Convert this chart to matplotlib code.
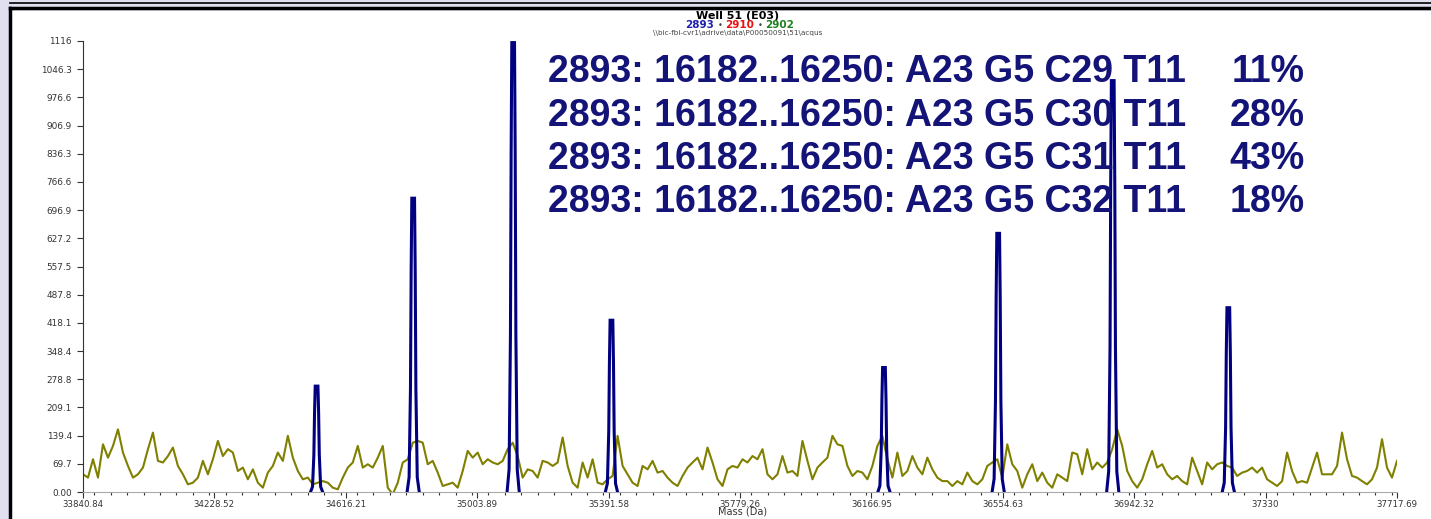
import numpy as np
import matplotlib.pyplot as plt
from matplotlib.patches import Rectangle
from matplotlib.lines import Line2D
from matplotlib.ticker import MultipleLocator

plt.rcParams['font.family'] = ['DejaVu Sans']

# mass range of the spectrum and tick labels
mass_min = 33840.84
mass_max = 37717.69
x_tick_labels = ['33840.84', '34228.52', '34616.21', '35003.89', '35391.58', '35779.26',
                 '36166.95', '36554.63', '36942.32', '37330', '37717.69']
y_max = 1116
y_tick_labels = ['0.00', '69.7', '139.4', '209.1', '278.8', '348.4', '418.1', '487.8',
                 '557.5', '627.2', '696.9', '766.6', '836.3', '906.9', '976.6', '1046.3', '1116']

# called peaks (blue trace)
peak_mass = [34530, 34815, 35110, 35400, 36204, 36541, 36879, 37220]
peak_height = [262, 727, 1112, 425, 308, 640, 1018, 456]

# noise baseline (olive trace), sampled evenly over the mass range
baseline = [
    43.8, 35.6, 81, 35.6, 118, 85, 114, 155, 97.6, 64.5, 35.6, 43.8, 60.4, 106, 147, 77, 73, 89,
    110, 64.5, 43.8, 19, 23, 35.6, 77, 43.8, 81, 126.5, 89, 106, 97.6, 52, 60.4, 31.4, 56, 23,
    10.7, 48, 64.5, 97.6, 77, 139, 85, 52, 31.4, 35.6, 19, 23, 27, 23, 10.7, 6.6, 35.6, 60.4,
    73, 114, 60.4, 68.6, 60.4, 85, 114, 10.7, -5.8, 23, 73, 81, 122, 126.5,
    122, 68.6, 77, 48, 14.9, 19, 23, 10.7, 52, 101.7, 85, 97.6, 68.6, 81, 73, 68.6, 77, 106,
    122, 89, 35.6, 56, 52, 35.6, 77, 73, 64.5, 73, 135, 64.5, 23, 10.7, 73, 35.6, 81, 23, 19,
    31.4, 39.7, 139, 64.5, 43.8, 23, 14.9, 64.5, 56, 77, 48, 52, 35.6, 23, 14.9, 39.7, 60.4,
    73, 85, 56, 110, 73, 31.4, 14.9, 56, 64.5, 60.4, 81, 73,
    89, 81, 106, 43.8, 31.4, 43.8, 89, 48, 52, 39.7, 126.5, 77, 31.4, 60.4, 73, 85, 139, 118,
    114, 64.5, 39.7, 52, 48, 31.4, 64.5, 114, 139, 81, 35.6, 97.6, 39.7, 52, 89, 60.4, 43.8,
    85, 56, 35.6, 27, 27, 14.9, 27, 19, 48, 27, 19, 31.4, 64.5, 73, 81, 35.6, 118, 68.6, 52,
    10.7, 43.8, 68.6, 27, 48, 23, 10.7, 43.8, 35.6, 27, 97.6, 93.5,
    43.8, 106, 56, 73, 60.4, 73, 106, 155, 114, 52, 27, 10.7, 31.4, 68.6, 101.7, 60.4, 68.6,
    43.8, 31.4, 39.7, 27, 19, 85, 52, 19, 73, 56, 68.6, 73, 64.5, 60.4, 39.7, 48, 52, 60.4,
    48, 60.4, 31.4, 23, 14.9, 27, 97.6, 52, 23, 27, 23, 60.4, 97.6, 43.8, 43.8, 43.8, 64.5,
    147, 81, 39.7, 35.6, 27, 19, 31.4, 60.4, 130.7, 60.4, 35.6, 77,
]

assignments = ['2893: 16182..16250: A23 G5 C29 T11',
               '2893: 16182..16250: A23 G5 C30 T11',
               '2893: 16182..16250: A23 G5 C31 T11',
               '2893: 16182..16250: A23 G5 C32 T11']
percents = ['11%', '28%', '43%', '18%']

W, H = 1431, 519
fig = plt.figure(figsize=(W / 100, H / 100), dpi=100, facecolor='#e0e0f0')

# window frame
fig.patches.append(Rectangle((10 / W, 0), 1 - 10 / W, 1 - 11 / H, transform=fig.transFigure,
                             facecolor='white', edgecolor='none', zorder=-5))
fig.lines.append(Line2D([10 / W, 1], [1 - 3 / H, 1 - 3 / H], transform=fig.transFigure,
                        color='black', lw=1.2, zorder=-4))
fig.lines.append(Line2D([10 / W, 1], [1 - 8 / H, 1 - 8 / H], transform=fig.transFigure,
                        color='black', lw=2.5, zorder=-4))
fig.lines.append(Line2D([10 / W, 10 / W], [0, 1 - 8 / H], transform=fig.transFigure,
                        color='black', lw=2.5, zorder=-4))

ax = fig.add_axes([83 / W, 27 / H, 1314 / W, 451 / H])
ax.set_facecolor('none')

mass = np.linspace(mass_min, mass_max, len(baseline))
ax.plot(mass, baseline, color='#808000', lw=1.5, zorder=2)

# peak outline (hollow, like the original trace)
dx = [-18, -12, -8, -6, -4, 4, 6, 8, 12, 18]
fy = [0, 0.05, 0.35, 0.75, 1, 1, 0.75, 0.35, 0.05, 0]
for m, h in zip(peak_mass, peak_height):
    ax.plot([m + d for d in dx], [h * f for f in fy], color='#000080', lw=2.2, zorder=3,
            solid_joinstyle='miter')

ax.set_xlim(mass_min, mass_max)
ax.set_ylim(0, y_max)
xt = np.linspace(mass_min, mass_max, len(x_tick_labels))
ax.set_xticks(xt)
ax.set_xticklabels(x_tick_labels)
ax.xaxis.set_minor_locator(MultipleLocator((xt[1] - xt[0]) / 8))
yt = np.linspace(0, y_max, len(y_tick_labels))
ax.set_yticks(yt)
ax.set_yticklabels(y_tick_labels)

for s in ['top', 'right']:
    ax.spines[s].set_visible(False)
ax.spines['left'].set_color('#333333')
ax.spines['bottom'].set_color('#aaaaaa')
ax.tick_params(axis='y', which='major', labelsize=6.4, length=4, width=0.8,
               color='#333333', labelcolor='#333333', pad=4)
ax.tick_params(axis='x', which='major', labelsize=6.2, length=4, width=0.8,
               color='#333333', labelcolor='#333333', pad=1.5)
ax.tick_params(axis='x', which='minor', length=2, width=0.8, color='#333333')

# axis title placed just under the tick labels
fig.text(743 / W, 1 - 511 / H, 'Mass (Da)', ha='center', va='center', fontsize=7,
         color='#333333')

# header
fig.text(738 / W, 1 - 16 / H, 'Well 51 (E03)', ha='center', va='center', fontsize=8,
         fontweight='bold')
fig.text(700 / W, 1 - 25 / H, '2893', ha='center', va='center', fontsize=7.5,
         fontweight='bold', color='#2020b0')
fig.text(720 / W, 1 - 25 / H, '•', ha='center', va='center', fontsize=6, color='#444444')
fig.text(740 / W, 1 - 25 / H, '2910', ha='center', va='center', fontsize=7.5,
         fontweight='bold', color='#ee1010')
fig.text(760 / W, 1 - 25 / H, '•', ha='center', va='center', fontsize=6, color='#444444')
fig.text(780 / W, 1 - 25 / H, '2902', ha='center', va='center', fontsize=7.5,
         fontweight='bold', color='#208020')
fig.text(738 / W, 1 - 33.5 / H, r'\\bic-fbi-cvr1\adrive\data\P00050091\51\acqus',
         ha='center', va='center', fontsize=5.2, color='#444444')

# peak assignments
for i, (a, p) in enumerate(zip(assignments, percents)):
    y = 1 - (72 + 43.5 * i) / H
    fig.text(548 / W, y, a, ha='left', va='center', fontsize=27, fontweight='bold',
             color='#141478', family='Liberation Sans')
    fig.text(1305 / W, y, p, ha='right', va='center', fontsize=27, fontweight='bold',
             color='#141478', family='Liberation Sans')

fig.savefig('out.png', dpi=100, facecolor=fig.get_facecolor())
